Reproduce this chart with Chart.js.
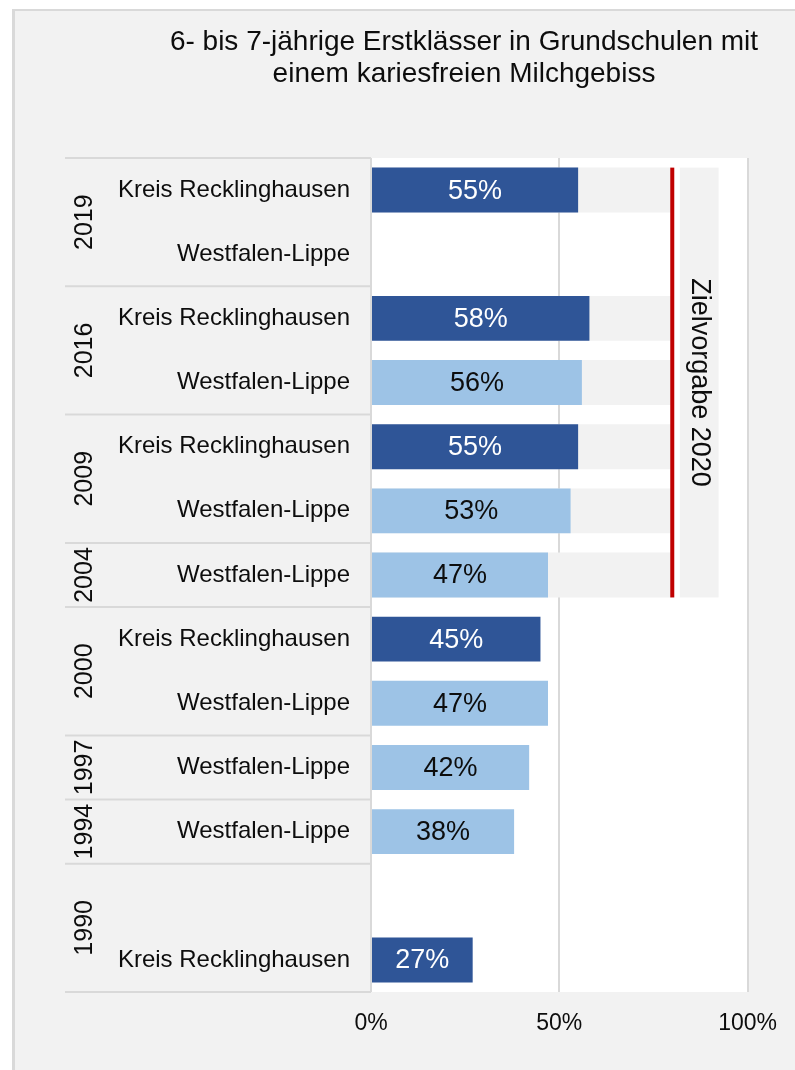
<!DOCTYPE html>
<html>
<head>
<meta charset="utf-8">
<title>Kariesfreies Milchgebiss</title>
<script src="https://cdn.jsdelivr.net/npm/chart.js@4.4.1/dist/chart.umd.min.js"></script>
<style>
	html, body { margin: 0; padding: 0; background: #fff; }
	#wrap { position: absolute; left: 0; top: 0; width: 795px; height: 1070px; }
</style>
</head>
<body>
<div id="wrap"><canvas id="karies-chart" width="795" height="1070"></canvas></div>
<script>
/* global Chart */
'use strict';

// Data.
var titleLines = [ '6- bis 7-jährige Erstklässer in Grundschulen mit', 'einem kariesfreien Milchgebiss' ];
var years      = [ '2019', '2016', '2009', '2004', '2000', '1997', '1994', '1990' ];
var yearRows   = [ 2, 2, 2, 1, 2, 1, 1, 2 ];
var regions    = [
	'Kreis Recklinghausen', 'Westfalen-Lippe',
	'Kreis Recklinghausen', 'Westfalen-Lippe',
	'Kreis Recklinghausen', 'Westfalen-Lippe',
	'Westfalen-Lippe',
	'Kreis Recklinghausen', 'Westfalen-Lippe',
	'Westfalen-Lippe',
	'Westfalen-Lippe',
	'', 'Kreis Recklinghausen'
];
var shares         = [ 55, null, 58, 56, 55, 53, 47, 45, 47, 42, 38, null, 27 ];
var targetBackdrop = [ 80, null, 80, 80, 80, 80, 80, null, null, null, null, null, null ];
var targetValue    = 80;
var targetLabel    = 'Zielvorgabe 2020';
var targetBox      = [ 82, 92.3 ];
var xTicks         = [ 0, 50, 100 ];

var FONT      = '"Liberation Sans", Arial, Helvetica, sans-serif';
var DARK_BLUE = '#2f5597';
var LIGHT_BLUE = '#9dc3e6';
var PANEL     = '#f2f2f2';
var LINE      = '#d9d9d9';
var TEXT      = '#0d0d0d';

Chart.defaults.font.family = FONT;
Chart.defaults.color = TEXT;

var barColors = regions.map( function ( r ) {
	return r === 'Kreis Recklinghausen' ? DARK_BLUE : LIGHT_BLUE;
} );

// Panel, title, year column, target marker and value labels.
var decorPlugin = {
	id: 'decor',
	beforeDraw: function ( chart ) {
		var ctx = chart.ctx;
		var area = chart.chartArea;
		ctx.save();
		ctx.fillStyle = '#fff';
		ctx.fillRect( 0, 0, chart.width, chart.height );
		ctx.fillStyle = PANEL;
		ctx.fillRect( 12, 9, chart.width - 12, chart.height - 9 );
		ctx.fillStyle = LINE;
		ctx.fillRect( 12, 9, chart.width - 12, 2 );
		ctx.fillRect( 12, 9, 3, chart.height - 9 );
		ctx.fillStyle = '#fff';
		ctx.fillRect( area.left, area.top, area.right - area.left, area.bottom - area.top );
		ctx.restore();
	},
	afterDatasetsDraw: function ( chart ) {
		var ctx = chart.ctx;
		var area = chart.chartArea;
		var xs = chart.scales.x;
		var ys = chart.scales.y;
		ctx.save();

		// Title.
		ctx.fillStyle = TEXT;
		ctx.font = '28px ' + FONT;
		ctx.textAlign = 'center';
		ctx.textBaseline = 'middle';
		titleLines.forEach( function ( line, i ) {
			ctx.fillText( line, 464, 42 + i * 32 );
		} );

		// Year groups: separators and rotated year labels.
		var step = ys.getPixelForValue( 1 ) - ys.getPixelForValue( 0 );
		var row = 0;
		ctx.strokeStyle = LINE;
		ctx.lineWidth = 2;
		var edge = ys.getPixelForValue( 0 ) - step / 2;
		ctx.beginPath();
		ctx.moveTo( 65, edge );
		ctx.lineTo( area.left, edge );
		ctx.stroke();
		years.forEach( function ( year, i ) {
			var top = ys.getPixelForValue( row ) - step / 2;
			row += yearRows[ i ];
			var bottom = ys.getPixelForValue( row - 1 ) + step / 2;
			ctx.beginPath();
			ctx.moveTo( 65, bottom );
			ctx.lineTo( area.left, bottom );
			ctx.stroke();

			ctx.save();
			ctx.translate( 92, ( top + bottom ) / 2 );
			ctx.rotate( -Math.PI / 2 );
			ctx.font = '25px ' + FONT;
			ctx.fillStyle = TEXT;
			ctx.textAlign = 'center';
			ctx.textBaseline = 'alphabetic';
			ctx.fillText( year, 0, 0 );
			ctx.restore();
		} );

		// Target line and its label box.
		var backMeta = chart.getDatasetMeta( 1 );
		var first = backMeta.data[ 0 ].getProps( [ 'y', 'height' ], true );
		var last = backMeta.data[ 6 ].getProps( [ 'y', 'height' ], true );
		var yTop = first.y - first.height / 2;
		var yBottom = last.y + last.height / 2;
		var tx = xs.getPixelForValue( targetValue );

		var bx0 = xs.getPixelForValue( targetBox[ 0 ] );
		var bx1 = xs.getPixelForValue( targetBox[ 1 ] );
		ctx.fillStyle = PANEL;
		ctx.fillRect( bx0, yTop, bx1 - bx0, yBottom - yTop );

		ctx.fillStyle = '#c00000';
		ctx.fillRect( tx - 2, yTop, 4, yBottom - yTop );

		ctx.save();
		ctx.translate( 692, ( yTop + yBottom ) / 2 );
		ctx.rotate( Math.PI / 2 );
		ctx.font = '27px ' + FONT;
		ctx.fillStyle = TEXT;
		ctx.textAlign = 'center';
		ctx.textBaseline = 'alphabetic';
		ctx.fillText( targetLabel, 0, 0 );
		ctx.restore();

		// Value labels in the middle of each bar.
		var meta = chart.getDatasetMeta( 0 );
		ctx.font = '27px ' + FONT;
		ctx.textAlign = 'center';
		ctx.textBaseline = 'middle';
		meta.data.forEach( function ( bar, i ) {
			if ( shares[ i ] === null ) {
				return;
			}
			var p = bar.getProps( [ 'x', 'y', 'base' ], true );
			ctx.fillStyle = barColors[ i ] === DARK_BLUE ? '#fff' : TEXT;
			ctx.fillText( shares[ i ] + '%', ( p.x + p.base ) / 2, p.y + 1 );
		} );

		ctx.restore();
	}
};

new Chart( document.getElementById( 'karies-chart' ).getContext( '2d' ), {
	type: 'bar',
	data: {
		labels: regions,
		datasets: [ {
			data: shares,
			backgroundColor: barColors,
			grouped: false,
			categoryPercentage: 1,
			barPercentage: 0.7
		}, {
			data: targetBackdrop,
			backgroundColor: PANEL,
			grouped: false,
			categoryPercentage: 1,
			barPercentage: 0.7
		} ]
	},
	options: {
		indexAxis: 'y',
		responsive: false,
		animation: false,
		layout: { padding: { top: 158, right: 46, bottom: 0, left: 0 } },
		plugins: {
			legend: { display: false },
			tooltip: { enabled: false }
		},
		scales: {
			x: {
				min: 0,
				max: 100,
				afterBuildTicks: function ( scale ) {
					scale.ticks = xTicks.map( function ( v ) { return { value: v }; } );
				},
				afterFit: function ( scale ) { scale.height = 78; },
				ticks: {
					font: { size: 23 },
					color: TEXT,
					padding: 18,
					callback: function ( v ) { return v + '%'; }
				},
				grid: { color: LINE, lineWidth: 2, drawTicks: false },
				border: { display: false }
			},
			y: {
				afterFit: function ( scale ) { scale.width = 371; },
				ticks: {
					font: { size: 24 },
					color: TEXT,
					padding: 21,
					autoSkip: false
				},
				grid: { display: false, drawTicks: false },
				border: { display: false }
			}
		}
	},
	plugins: [ decorPlugin ]
} );
</script>
</body>
</html>
